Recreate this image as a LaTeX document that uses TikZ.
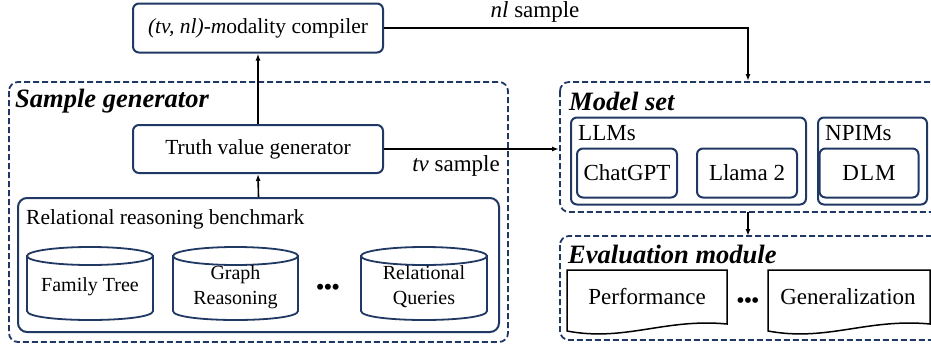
\documentclass[tikz,border=0pt]{standalone}
\usepackage{fontspec}
\setmainfont{Liberation Serif}
\usetikzlibrary{arrows.meta}
\definecolor{navy}{RGB}{32,56,100}
\tikzset{
  solidbox/.style={draw=navy, line width=2pt, rounded corners=6pt, fill=white},
  dashbox/.style={draw=navy, line width=1.8pt, dash pattern=on 6pt off 3pt, rounded corners=9pt},
  txt/.style={font=\fontsize{21.5}{25}\selectfont, inner sep=0pt},
  bigtxt/.style={font=\fontsize{23}{27}\selectfont, inner sep=0pt},
  smalltxt/.style={font=\fontsize{20}{25}\selectfont, inner sep=0pt, align=center},
  title/.style={font=\fontsize{26.5}{30}\selectfont\bfseries\itshape, inner sep=0pt, anchor=west},
  cylline/.style={draw=navy, line width=1.8pt, fill=white},
  docline/.style={draw=black, line width=1.5pt, fill=white},
  conn/.style={draw=black, line width=1.6pt, -{Latex[length=7pt,width=5pt]}},
}
\begin{document}
\begin{tikzpicture}[x=1pt,y=-1pt]
\useasboundingbox (0,0) rectangle (931,348);
\clip (0,0) rectangle (931,348);

% dashed groups
\draw[dashbox] (9,82) rectangle (508,342);
\draw[dashbox] (560,82) rectangle (945,212);
\draw[dashbox] (560,236) rectangle (945,340);

\node[title] (sgt) at (15,101) {Sample generator};
\node[title] (mst) at (569,101) {Model set};
\node[title] (emt) at (568,254) {Evaluation module};

% compiler and truth value
\node[solidbox, txt, minimum width=250pt, minimum height=49pt] (comp) at (258,28)
  {\textit{(tv, nl)-m}odality compiler};
\node[solidbox, txt, minimum width=250pt, minimum height=48pt] (tvg) at (258,149)
  {Truth value generator};

% benchmark
\node[solidbox, minimum width=481pt, minimum height=134pt, rounded corners=9pt] (bench) at (258.5,265) {};
\node[txt, anchor=west] (benchl) at (26,219) {Relational reasoning benchmark};

% cylinders
\path[cylline] (27,256) -- (27,311) .. controls (27,323) and (153,323) .. (153,311) -- (153,256) -- cycle;
\draw[cylline] (90,256) ellipse [x radius=63pt, y radius=9pt];
\node[smalltxt] (ft) at (90,287) {Family Tree};

\path[cylline] (173,256) -- (173,311) .. controls (173,323) and (298,323) .. (298,311) -- (298,256) -- cycle;
\draw[cylline] (235.5,256) ellipse [x radius=62.5pt, y radius=9pt];
\node[smalltxt] (gr) at (235.5,287) {Graph\\Reasoning};

\path[cylline] (361,256) -- (361,311) .. controls (361,323) and (487,323) .. (487,311) -- (487,256) -- cycle;
\draw[cylline] (424,256) ellipse [x radius=63pt, y radius=9pt];
\node[smalltxt] (rq) at (424,287) {Relational\\Queries};

\node[font=\fontsize{22}{25}\selectfont, inner sep=0pt] (bdots) at (328,289) {\textbf{•••}};

% model set
\node[solidbox, minimum width=235pt, minimum height=87pt] (llms) at (688.5,161) {};
\node[bigtxt, anchor=west] (llmsl) at (578,133) {LLMs};
\node[solidbox, bigtxt, minimum width=100pt, minimum height=49pt] (gpt) at (627,173) {ChatGPT};
\node[solidbox, bigtxt, minimum width=100pt, minimum height=49pt] (llama) at (747,173) {Llama 2};
\node[solidbox, minimum width=109pt, minimum height=87pt] (npim) at (872.5,161) {};
\node[bigtxt, anchor=west] (npiml) at (825,133) {NPIMs};
\node[solidbox, bigtxt, minimum width=99pt, minimum height=49pt] (dlm) at (869,173) {D\kern1ptL\kern1ptM};

% evaluation documents
\path[docline] (567,270) -- (727,270) -- (727,324) .. controls (665,318) and (625,342) .. (567,331) -- cycle;
\node[bigtxt] (perf) at (647,297) {Performance};
\path[docline] (768,270) -- (930,270) -- (930,324) .. controls (867,318) and (827,342) .. (768,331) -- cycle;
\node[bigtxt] (gen) at (848,297) {Generalization};
\node[font=\fontsize{21}{25}\selectfont, inner sep=0pt] (edots) at (748,303) {\textbf{•••}};

% connectors
\coordinate (msl) at (559,149);
\coordinate (mst0) at (748,81);
\coordinate (msb) at (748,212);
\coordinate (emtop) at (748,236);
\draw[conn] (bench.north) -- (tvg.south);
\draw[conn] (tvg.north) -- (comp.north |- comp.south);
\draw[conn] (tvg.east) -- (msl);
\draw[conn] (comp.east) -| (mst0);
\draw[conn] (msb) -- (emtop);

\node[bigtxt] (nll) at (535,12) {\textit{nl} sample};
\node[bigtxt] (tvl) at (456,166) {\textit{tv} sample};
\end{tikzpicture}
\end{document}
